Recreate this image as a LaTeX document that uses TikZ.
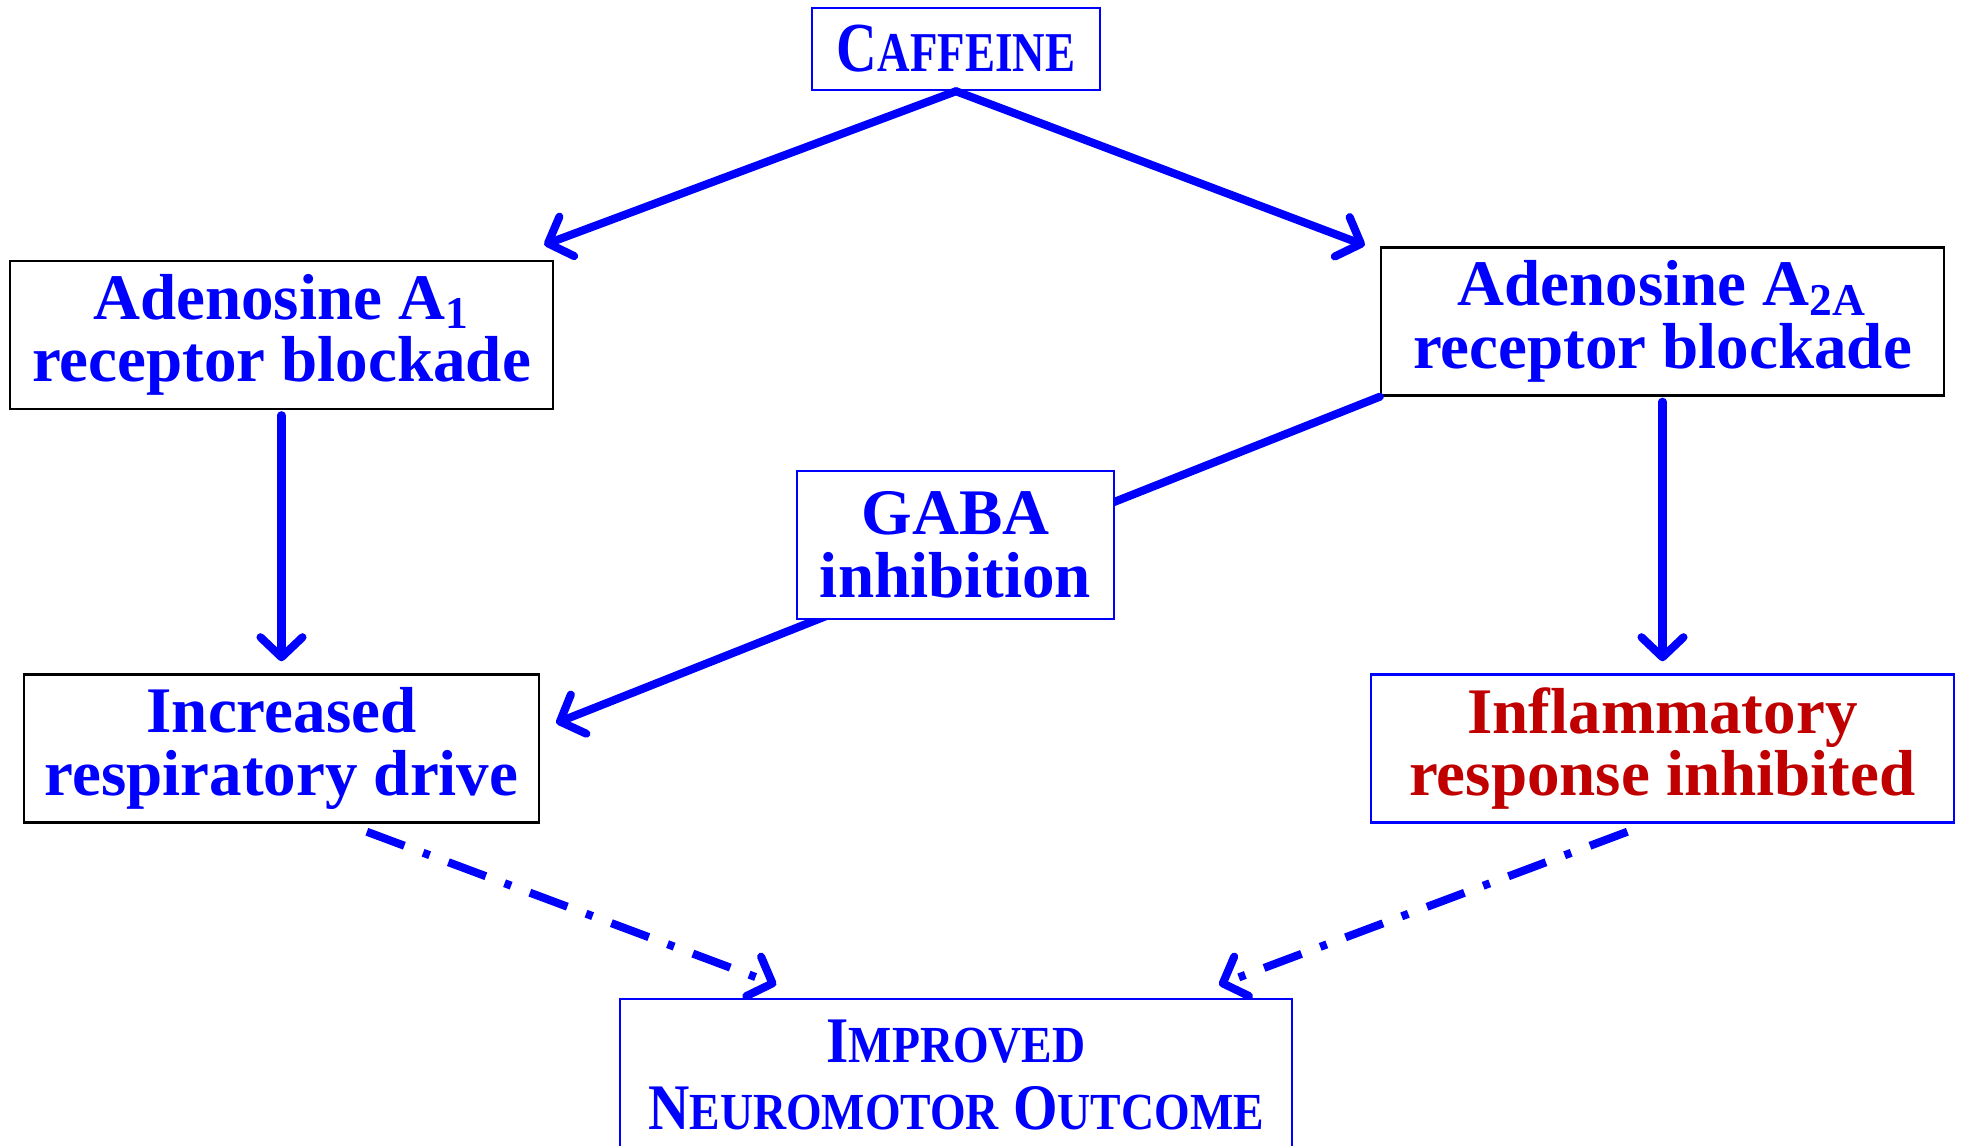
\documentclass[tikz,border=0pt]{standalone}
\usepackage{fontspec}
\setmainfont{Liberation Serif}
\usepackage{graphicx}
\usetikzlibrary{arrows.meta,calc}
\definecolor{darkred}{RGB}{192,0,0}
\newcommand{\lowcaps}[1]{\scalebox{0.8}{#1}}
\tikzset{
  box/.style={draw=blue,line width=0.7pt,fill=white,align=center,text=blue,
    font=\fontsize{18.5}{17.8}\selectfont\bfseries,inner sep=0pt,minimum height=1.48cm},
  blackbox/.style={box,draw=black},
  flow/.style={blue,line width=2.3pt,line cap=round,
    -{Straight Barb[round,length=2mm,width=4.2mm]}},
  hint/.style={flow,line cap=butt,dash pattern=on 4mm off 2mm on 0.7mm off 2mm}
}
\begin{document}
\begin{tikzpicture}
  \useasboundingbox (0,0) rectangle (19.65,-11.45);
  % Top
  \node[box,minimum width=2.88cm,minimum height=0.82cm,
    font=\fontsize{20}{20}\selectfont\bfseries] (caf) at (9.56,-0.49)
    {\scalebox{0.8}[1]{C\lowcaps{AFFEINE}}};
  % Receptors
  \node[blackbox,minimum width=5.43cm] (a1) at (2.815,-3.35)
    {Adenosine A\textsubscript{1}\\receptor blockade};
  \node[box,draw=black,minimum width=5.63cm] (a2) at (16.625,-3.215)
    {Adenosine A\textsubscript{2A}\\receptor blockade};
  % Effects
  \node[blackbox,minimum width=5.15cm] (resp) at (2.815,-7.485)
    {Increased\\respiratory drive};
  \node[box,text=darkred,minimum width=5.83cm] (infl) at (16.625,-7.485)
    {Inflammatory\\response inhibited};
  % Outcome
  \node[box,minimum width=6.72cm,minimum height=1.52cm,
    font=\fontsize{18.5}{19}\selectfont\bfseries] (impr) at (9.56,-10.75)
    {\scalebox{0.88}[1]{I\lowcaps{MPROVED}}\\
     \scalebox{0.88}[1]{N\lowcaps{EUROMOTOR} O\lowcaps{UTCOME}}};
  % Caffeine to receptors
  \coordinate (a1in) at ($(a1.north east)+(-0.10,0.15)$);
  \coordinate (a2in) at ($(a2.north west)+(-0.15,0.01)$);
  \draw[flow] (caf.south) -- (a1in);
  \draw[flow] (caf.south) -- (a2in);
  % Receptors down
  \draw[flow,shorten <=0.05cm,shorten >=0.12cm] (a1.south) -- (resp.north);
  \draw[flow,shorten <=0.05cm,shorten >=0.12cm] (a2.south) -- (infl.north);
  % A2A through GABA
  \coordinate (respin) at ($(resp.east)+(0.16,0.255)$);
  \draw[flow] (a2.south west) -- (respin);
  \node[box,minimum width=3.17cm] (gaba) at (9.555,-5.45) {GABA\\inhibition};
  % Dash-dot toward outcome
  \coordinate (respout) at ($(resp.south)!0.33!(resp.south east)+(0,-0.08)$);
  \coordinate (inflout) at ($(infl.south)!0.12!(infl.south west)+(0,-0.08)$);
  \coordinate (imprl) at ($(impr.north west)!0.467!(impr.north)+(0,0.13)$);
  \coordinate (imprr) at ($(impr.north)!0.78!(impr.north east)+(0,0.13)$);
  \draw[hint] (respout) -- (imprl);
  \draw[hint] (inflout) -- (imprr);
\end{tikzpicture}
\end{document}
